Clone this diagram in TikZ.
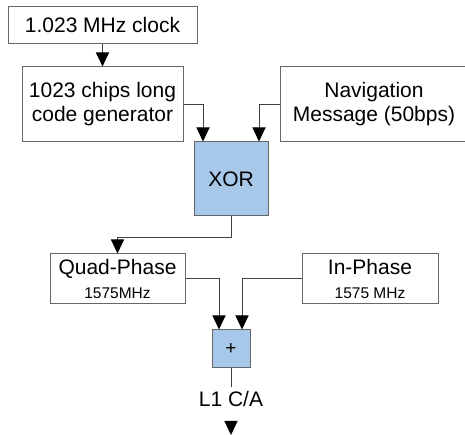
\documentclass[tikz,border=0pt]{standalone}
\usepackage{fontspec}
\setmainfont{Liberation Sans}
\usetikzlibrary{arrows.meta}
\definecolor{opblue}{RGB}{168,200,233}
\newcommand{\smalltxt}{\fontsize{15.5}{18}\selectfont}
\begin{document}
\begin{tikzpicture}[x=1pt, y=1pt,
        every node/.style={font=\fontsize{21}{24}\selectfont},
        block/.style={draw=black!60, line width=1pt, inner sep=0pt, align=center},
        op/.style={block, fill=opblue},
        link/.style={draw=black!75, line width=1pt, -{Triangle[width=13pt, length=14pt, black]}}
    ]
        \useasboundingbox (0,0) rectangle (465,435);
        \node[block, minimum width=189pt, minimum height=37pt] (clock) at (102.5,409.5) {1.023 MHz clock};
        \node[block, minimum width=161pt, minimum height=75pt] (gen) at (102.5,330.5) {1023 chips long\\ code generator};
        \node[block, minimum width=188pt, minimum height=75pt] (nav) at (374,330.5) {Navigation\\ Message (50bps)};
        \node[op, minimum width=74pt, minimum height=74pt] (xor) at (231,256) {XOR};
        \node[block, minimum width=135pt, minimum height=50pt] (quad) at (117.5,156) {Quad-Phase\\ {\smalltxt 1575MHz}};
        \node[block, minimum width=136pt, minimum height=50pt] (inph) at (370,156) {In-Phase\\ {\smalltxt 1575 MHz}};
        \node[op, minimum width=38pt, minimum height=38pt, font=\fontsize{19}{21}\selectfont] (plus) at (231,86) {+};
        \node[inner xsep=0pt, inner ysep=5pt, text height=15pt, text depth=11pt, anchor=base] (l1) at (231,28) {L1 C/A};
        \coordinate (out) at (231,0);
        \draw[link] (clock) -- (gen);
        \draw[link] (gen.east) -| ([xshift=-28pt]xor.north);
        \draw[link] (nav.west) -| ([xshift=28pt]xor.north);
        \draw[link] (xor.south) -- ++(0,-21) -| (quad.north);
        \draw[link] (quad.east) -| ([xshift=-12pt]plus.north);
        \draw[link] (inph.west) -| ([xshift=11pt]plus.north);
        \draw[draw=black!75, line width=1pt] (plus) -- (l1);
        \draw[link] (l1) -- (out);
    \end{tikzpicture}
\end{document}
